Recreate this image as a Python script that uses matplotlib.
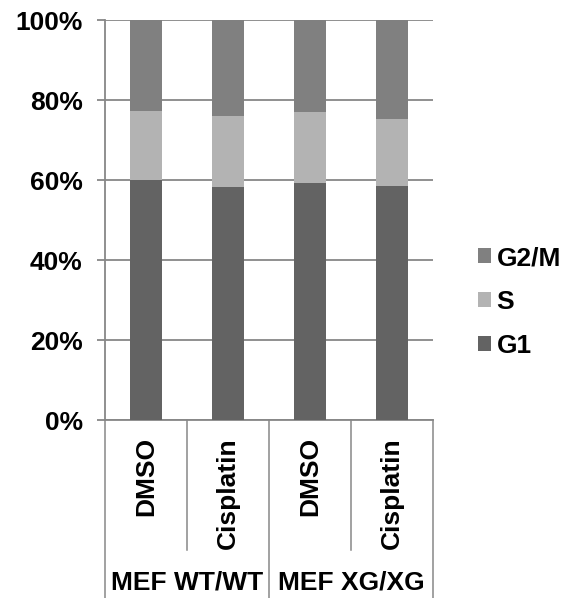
import matplotlib
matplotlib.use('Agg')
import matplotlib.pyplot as plt
from matplotlib.font_manager import FontProperties
import numpy as np

# cell cycle distribution (percent of cells)
treatments = ['DMSO', 'Cisplatin', 'DMSO', 'Cisplatin']
groups = ['MEF WT/WT', 'MEF XG/XG']
g1 = [60.0, 58.3, 59.3, 58.6]
s_phase = [17.3, 17.7, 17.7, 16.7]
g2m = [22.7, 24.0, 23.0, 24.7]

plt.rcParams['font.family'] = ['Liberation Sans', 'DejaVu Sans']
plt.rcParams['font.weight'] = 'bold'

fig = plt.figure(figsize=(5.62, 5.98), dpi=100)
ax = fig.add_axes([105/562, 178/598, 328/562, 400/598])

grid_col = '#878787'
fs = 19
x = np.arange(len(treatments))
w = 0.39
g1 = np.array(g1)
s_phase = np.array(s_phase)
g2m = np.array(g2m)

b1 = ax.bar(x, g1, w, color='#636363', label='G1', zorder=3)
b2 = ax.bar(x, s_phase, w, bottom=g1, color='#b3b3b3', label='S', zorder=3)
b3 = ax.bar(x, g2m, w, bottom=g1 + s_phase, color='#808080', label='G2/M', zorder=3)

ax.set_xlim(-0.5, len(treatments) - 0.5)
ax.set_ylim(0, 100)
ax.set_yticks(np.arange(0, 101, 20))
ax.set_yticklabels(['%d%%' % v for v in range(0, 101, 20)], fontsize=fs, fontweight='bold')
ax.tick_params(axis='y', length=6, width=1.3, color=grid_col, pad=10)
ax.set_xticks([])
ax.yaxis.grid(True, color=grid_col, linewidth=1.3, zorder=0)

for side in ['top', 'right']:
    ax.spines[side].set_visible(False)
for side in ['left', 'bottom']:
    ax.spines[side].set_color(grid_col)
    ax.spines[side].set_linewidth(1.3)

# two-level category axis
tr = ax.get_xaxis_transform()
for i, t in enumerate(treatments):
    ax.text(i, -0.043, t, transform=tr, rotation=90, ha='center', va='top',
            fontsize=fs, fontweight='bold')
for k in range(len(treatments) + 1):
    xb = k - 0.5
    low = -0.445 if k % 2 == 0 else -0.325
    ax.plot([xb, xb], [0, low], transform=tr, color=grid_col, linewidth=1.1,
            clip_on=False)
for j, g in enumerate(groups):
    ax.text(2 * j + 0.5, -0.405, g, transform=tr, ha='center', va='center',
            fontsize=fs, fontweight='bold')

leg_font = FontProperties(family='Liberation Sans', weight='bold', size=19)
ax.legend(handles=[b3, b2, b1], loc='center left',
          bbox_to_anchor=(470/562, 1 - 302/598), bbox_transform=fig.transFigure,
          frameon=False, prop=leg_font, handlelength=0.5, handleheight=0.5,
          handletextpad=0.2, labelspacing=0.75, borderaxespad=0, borderpad=0.3)

fig.savefig('out.png', dpi=100)
